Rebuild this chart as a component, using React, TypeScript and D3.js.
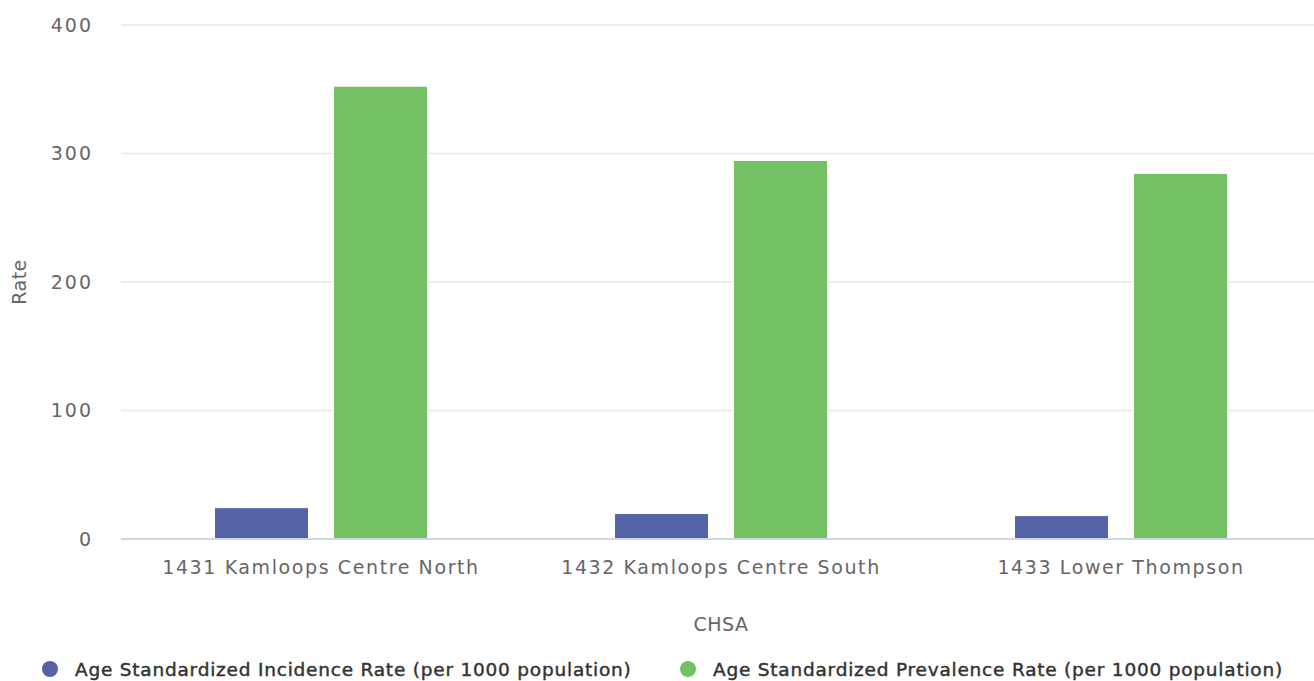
import React from 'react';
import * as d3 from 'd3';

// chart data
const categories = ['1431 Kamloops Centre North', '1432 Kamloops Centre South', '1433 Lower Thompson'];
const seriesNames = [
  'Age Standardized Incidence Rate (per 1000 population)',
  'Age Standardized Prevalence Rate (per 1000 population)',
];
const incidence = [24.4, 19.8, 18.2];
const prevalence = [352.4, 294.6, 284.5];
const yTicks = [0, 100, 200, 300, 400];
const colors = ['#5463a6', '#74c163'];

const W = 1314;
const H = 681;
// plot area runs a little past the right edge of the picture
const plotW = 1200;
const margin = { top: 25, bottom: 142, left: 121 };
const font = '"DejaVu Sans", Verdana, sans-serif';

export default function App() {
  const innerW = plotW;
  const innerH = H - margin.top - margin.bottom;

  const values = [incidence, prevalence];

  const x0 = d3.scaleBand<string>().domain(categories).range([0, innerW]).padding(0);
  const x1 = d3
    .scaleBand<number>()
    .domain([0, 1])
    .range([0, x0.bandwidth()])
    .paddingInner(0.21)
    .paddingOuter(0.786);
  const y = d3.scaleLinear().domain([0, 400]).range([innerH, 0]);

  return (
    <svg
      width={W}
      height={H}
      style={{ position: 'absolute', left: 0, top: 0, background: '#fff' }}
      fontFamily={font}
    >
      <g transform={`translate(${margin.left},${margin.top})`}>
        {/* grid */}
        {yTicks.map(t => (
          <g key={t}>
            {t !== 0 && (
              <line x1={0} x2={innerW} y1={y(t)} y2={y(t)} stroke="#e6e6e6" strokeWidth={1.5} />
            )}
            <text
              x={-28}
              y={y(t)}
              dy="0.36em"
              textAnchor="end"
              fontSize={19}
              fill="#666"
              letterSpacing={2}
            >
              {t}
            </text>
          </g>
        ))}

        {/* bars */}
        {categories.map((c, i) => (
          <g key={c} transform={`translate(${x0(c)},0)`}>
            {values.map((vals, s) => (
              <rect
                key={s}
                x={x1(s)}
                y={y(vals[i])}
                width={x1.bandwidth()}
                height={innerH - y(vals[i])}
                fill={colors[s]}
                stroke="#fff"
                strokeWidth={1}
              />
            ))}
            <text
              x={x0.bandwidth() / 2}
              y={innerH + 35}
              textAnchor="middle"
              fontSize={19}
              fill="#666"
              letterSpacing={1.6}
            >
              {c}
            </text>
          </g>
        ))}

        {/* x axis line */}
        <line x1={0} x2={innerW} y1={innerH} y2={innerH} stroke="#ccd6eb" strokeWidth={2} />

        {/* axis titles */}
        <text
          transform={`translate(${-95},${innerH / 2}) rotate(-90)`}
          textAnchor="middle"
          fontSize={19}
          fill="#666"
          letterSpacing={0.5}
        >
          Rate
        </text>
        <text x={600} y={innerH + 92} textAnchor="middle" fontSize={19} fill="#666" letterSpacing={0.5}>
          CHSA
        </text>
      </g>

      {/* legend */}
      {seriesNames.map((name, s) => {
        const lx = s === 0 ? 50 : 688;
        return (
          <g key={name} transform={`translate(${lx},669)`}>
            <circle r={8} fill={colors[s]} />
            <text
              x={25}
              dy="0.36em"
              fontSize={18.5}
              fill="#333"
              stroke="#333"
              strokeWidth={0.45}
              letterSpacing={0.78}
            >
              {name}
            </text>
          </g>
        );
      })}
    </svg>
  );
}
